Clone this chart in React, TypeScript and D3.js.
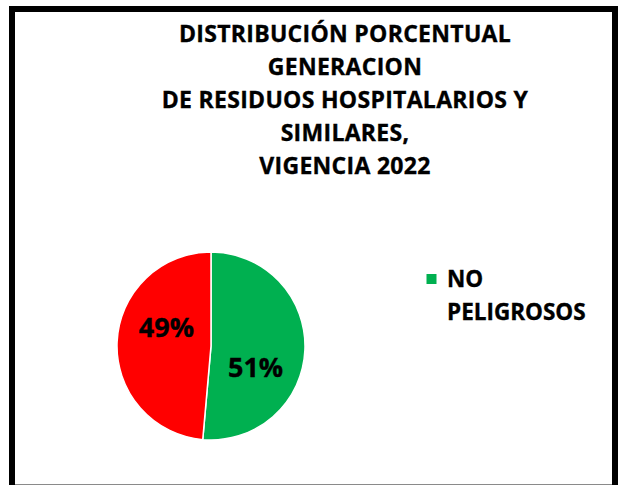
import React, { useRef, useEffect } from "react";
import * as d3 from "d3";

// chart data
const categories = ["NO PELIGROSOS", "PELIGROSOS"];
const values = [51.4, 48.6];
const percentLabels = ["51%", "49%"];
const colors = ["#00B050", "#FF0000"];
const titleLines = [
  "DISTRIBUCIÓN PORCENTUAL",
  "GENERACION",
  "DE RESIDUOS HOSPITALARIOS Y",
  "SIMILARES,",
  "VIGENCIA 2022",
];
const legendLines = ["NO", "PELIGROSOS"];

const W = 623;
const H = 485;
const FONT = "'Open Sans', 'Liberation Sans', sans-serif";

const App: React.FC = () => {
  const svgRef = useRef<SVGSVGElement | null>(null);

  useEffect(() => {
    const svg = d3.select(svgRef.current);
    svg.selectAll("*").remove();

    svg.append("rect").attr("width", W).attr("height", H).attr("fill", "#fff");

    // outer frame (bottom edge is cut off)
    svg
      .append("rect")
      .attr("x", 12)
      .attr("y", 9)
      .attr("width", 603)
      .attr("height", 520)
      .attr("fill", "none")
      .attr("stroke", "#000")
      .attr("stroke-width", 6);
    svg
      .append("line")
      .attr("x1", 15)
      .attr("x2", 612)
      .attr("y1", 484.5)
      .attr("y2", 484.5)
      .attr("stroke", "#8a8a8a")
      .attr("stroke-width", 1);

    // title
    const title = svg
      .append("text")
      .attr("text-anchor", "middle")
      .attr("font-family", FONT)
      .attr("font-weight", 700)
      .attr("font-size", 23)
      .attr("letter-spacing", 0.3)
      .attr("stroke", "#000")
      .attr("stroke-width", 0.35)
      .attr("fill", "#000");
    title
      .selectAll("tspan")
      .data(titleLines)
      .enter()
      .append("tspan")
      .attr("x", 345)
      .attr("y", (_, i) => 42 + i * 33)
      .text((d) => d);

    // pie
    const cx = 211;
    const cy = 346;
    const r = 94;
    const pie = d3
      .pie<number>()
      .sort(null)
      .startAngle(0)
      .endAngle(2 * Math.PI)
      .value((d) => d);
    const arcs = pie(values);
    const arc = d3.arc<d3.PieArcDatum<number>>().innerRadius(0).outerRadius(r);

    const g = svg.append("g").attr("transform", `translate(${cx},${cy})`);
    g.selectAll("path")
      .data(arcs)
      .enter()
      .append("path")
      .attr("d", arc)
      .attr("fill", (_, i) => colors[i])
      .attr("stroke", "#fff")
      .attr("stroke-width", 1.5);

    // data labels (Excel best fit places them a bit rotated from mid angle)
    const labelR = r * 0.52;
    g.selectAll("text.lbl")
      .data(arcs)
      .enter()
      .append("text")
      .attr("class", "lbl")
      .attr("text-anchor", "middle")
      .attr("font-family", FONT)
      .attr("font-weight", 700)
      .attr("font-size", 27)
      .attr("stroke", "#000")
      .attr("stroke-width", 0.35)
      .attr("fill", "#000")
      .attr("x", (d) => labelR * Math.sin((d.startAngle + d.endAngle) / 2 + 0.38))
      .attr("y", (d) => -labelR * Math.cos((d.startAngle + d.endAngle) / 2 + 0.38) + 11)
      .text((_, i) => percentLabels[i]);

    // legend (only first entry visible)
    const lg = svg.append("g").attr("transform", "translate(426.5,274)");
    lg.append("rect").attr("width", 10).attr("height", 10).attr("fill", colors[0]).attr("aria-label", categories[0]);
    const lt = lg
      .append("text")
      .attr("font-family", FONT)
      .attr("font-weight", 700)
      .attr("font-size", 22.5)
      .attr("stroke", "#000")
      .attr("stroke-width", 0.35)
      .attr("fill", "#000");
    lt.selectAll("tspan")
      .data(legendLines)
      .enter()
      .append("tspan")
      .attr("x", 20.5)
      .attr("y", (_, i) => 13 + i * 33)
      .text((d) => d);
  }, []);

  return (
    <svg
      ref={svgRef}
      width={W}
      height={H}
      style={{ position: "absolute", left: 0, top: 0, display: "block" }}
    ></svg>
  );
};

export default App;
